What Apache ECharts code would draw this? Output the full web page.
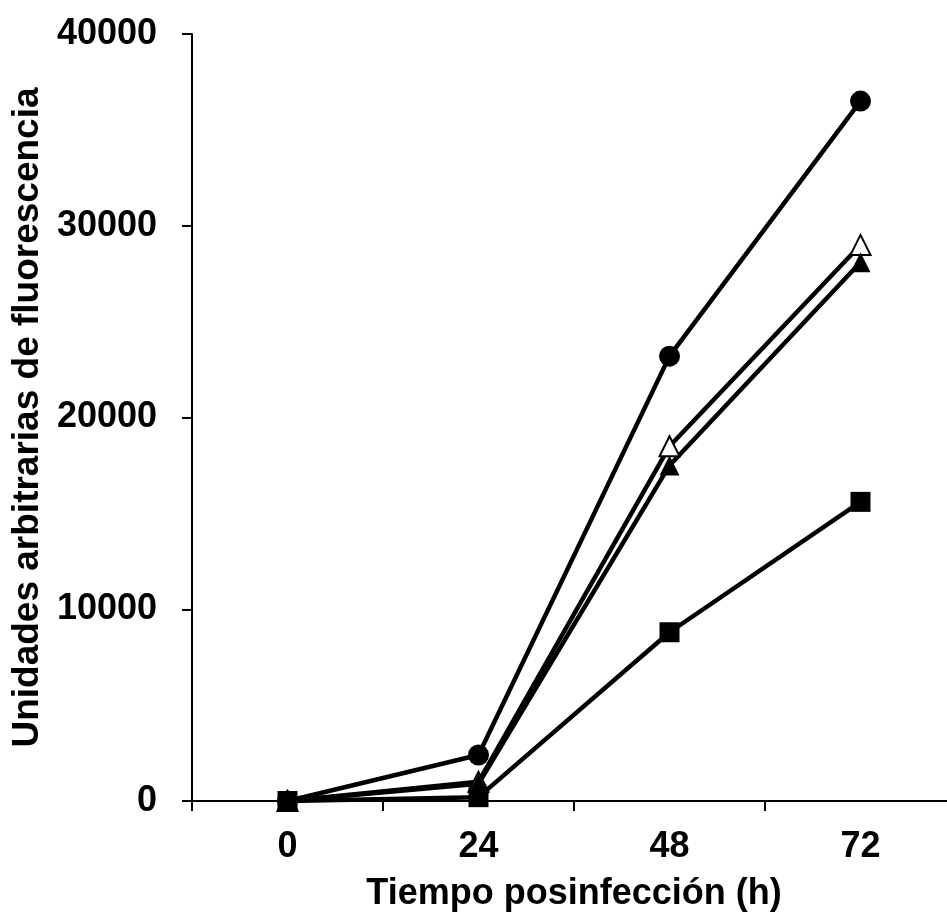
<!DOCTYPE html>
<html>
<head>
    <meta charset="utf-8">
    <title>Unidades arbitrarias de fluorescencia</title>
    <style>
        html, body { margin: 0; padding: 0; background: #fff; }
        #chart { width: 947px; height: 916px; }
    </style>
</head>
<body>
    <div id="chart"></div>
    <script src="https://cdn.jsdelivr.net/npm/echarts@6/dist/echarts.min.js"></script>
    <script>
        // horas posinfección
        var horas = ['0', '24', '48', '72'];
        // valores
        var circulo = [0, 2400, 23200, 36500];
        var trianguloAbierto = [0, 1000, 18500, 29000];
        var trianguloLleno = [0, 900, 17500, 28100];
        var cuadrado = [0, 200, 8800, 15600];

        var fuente = 'Liberation Sans, Arial, sans-serif';

        function serie(nombre, datos, simbolo, tam, relleno) {
            return {
                name: nombre,
                type: 'line',
                data: datos,
                symbol: simbolo,
                symbolSize: tam,
                showAllSymbol: true,
                lineStyle: { color: '#000', width: 4.5 },
                itemStyle: { color: relleno, borderColor: '#000', borderWidth: relleno === '#fff' ? 2 : 0 },
                emphasis: { disabled: true },
                animation: false
            };
        }

        var chart = echarts.init(document.getElementById('chart'));
        chart.setOption({
            backgroundColor: '#fff',
            grid: { left: 192, right: -9, top: 34, bottom: 115, containLabel: false, outerBoundsMode: 'none' },
            xAxis: {
                type: 'category',
                data: horas,
                boundaryGap: true,
                name: 'Tiempo posinfección (h)',
                nameLocation: 'middle',
                nameGap: 75,
                nameTextStyle: { fontFamily: fuente, fontWeight: 'bold', fontSize: 36, color: '#000' },
                axisLine: { lineStyle: { color: '#000', width: 2 } },
                axisTick: { show: true, length: 10, lineStyle: { color: '#000', width: 2 } },
                axisLabel: { margin: 28, fontFamily: fuente, fontWeight: 'bold', fontSize: 36, color: '#000' },
                splitLine: { show: false }
            },
            yAxis: {
                type: 'value',
                min: 0,
                max: 40000,
                interval: 10000,
                name: 'Unidades arbitrarias de fluorescencia',
                nameLocation: 'middle',
                nameGap: 144,
                nameTextStyle: { fontFamily: fuente, fontWeight: 'bold', fontSize: 37, color: '#000' },
                axisLine: { show: true, lineStyle: { color: '#000', width: 2 } },
                axisTick: { show: true, length: 10, lineStyle: { color: '#000', width: 2 } },
                axisLabel: {
                    margin: 35, fontFamily: fuente, fontWeight: 'bold', fontSize: 36, color: '#000',
                    formatter: function (v) { return String(v); }
                },
                splitLine: { show: false }
            },
            series: [
                serie('trianguloAbierto', trianguloAbierto, 'triangle', 20, '#fff'),
                serie('trianguloLleno', trianguloLleno, 'triangle', 20, '#000'),
                serie('circulo', circulo, 'circle', 21, '#000'),
                serie('cuadrado', cuadrado, 'rect', 20, '#000')
            ]
        });
    </script>
</body>
</html>
